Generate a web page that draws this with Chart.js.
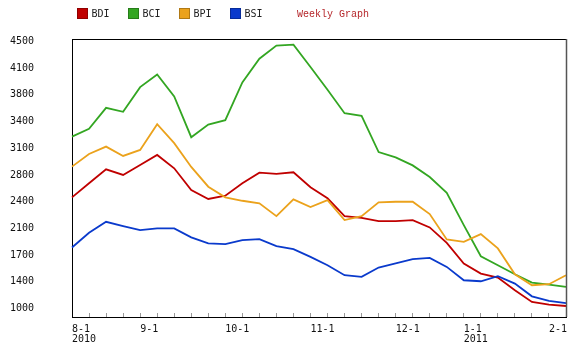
<!DOCTYPE html>
<html>
<head>
<meta charset="utf-8">
<script src="https://cdn.jsdelivr.net/npm/chart.js@4/dist/chart.umd.min.js"></script>
<style>
  body { margin: 0; background: #fff; }
  #wrap { width: 580px; height: 346px; }
</style>
</head>
<body>
<div id="wrap"><canvas id="lineChart" width="580" height="346"></canvas></div>
<script>
// weekly x axis, label only where a month starts
var weekLabels = [
  ['8-1', '2010'], '', '', '', '9-1', '', '', '', '', '10-1',
  '', '', '', '', '11-1', '', '', '', '', '12-1',
  '', '', '', ['1-1', '2011'], '', '', '', '', '2-1', ''
];

var bdi = [2457, 2641, 2824, 2750, 2881, 3012, 2837, 2553, 2435, 2478,
           2641, 2780, 2763, 2785, 2590, 2444, 2211, 2189, 2146, 2146,
           2159, 2063, 1861, 1591, 1459, 1407, 1240, 1087, 1052, 1034];
var bci = [3252, 3353, 3629, 3577, 3900, 4066, 3777, 3244, 3410, 3467,
           3961, 4272, 4443, 4456, 4163, 3865, 3559, 3524, 3050, 2980,
           2875, 2723, 2517, 2093, 1686, 1568, 1450, 1341, 1315, 1284];
var bpi = [2859, 3025, 3121, 2999, 3078, 3415, 3166, 2855, 2596, 2457,
           2412, 2378, 2211, 2431, 2330, 2421, 2159, 2211, 2391, 2399,
           2399, 2238, 1906, 1874, 1975, 1788, 1450, 1306, 1319, 1437];
var bsi = [1800, 1992, 2137, 2080, 2028, 2050, 2050, 1932, 1853, 1844,
           1896, 1910, 1818, 1778, 1677, 1568, 1437, 1415, 1538, 1591,
           1647, 1664, 1546, 1371, 1358, 1424, 1328, 1161, 1100, 1073];

// y axis: even steps of 350, labels as printed on the original
var yTickValues = [1000, 1350, 1700, 2050, 2400, 2750, 3100, 3450, 3800, 4150, 4500];
var yTickLabels = ['1000', '1400', '1700', '2100', '2400', '2800', '3100', '3400', '3800', '4100', '4500'];

var monoFont = '"DejaVu Sans Mono", monospace';

// legend row + "Weekly Graph" caption
var topLegend = {
  id: 'topLegend',
  afterDraw: function(chart) {
    var ctx = chart.ctx;
    ctx.save();
    ctx.font = '10px ' + monoFont;
    ctx.textBaseline = 'middle';
    var x = 77;
    chart.data.datasets.forEach(function(ds) {
      ctx.fillStyle = ds.borderColor;
      ctx.fillRect(x, 8, 11, 11);
      ctx.strokeStyle = 'rgba(0,0,0,0.25)';
      ctx.lineWidth = 1;
      ctx.strokeRect(x + 0.5, 8.5, 10, 10);
      ctx.fillStyle = '#222';
      ctx.fillText(ds.label, x + 14.5, 14);
      x += 51;
    });
    ctx.font = '10px "Liberation Mono", monospace';
    ctx.fillStyle = '#b5262a';
    ctx.fillText('Weekly Graph', x + 16, 14);
    ctx.restore();
  }
};

// box round the plot
var plotFrame = {
  id: 'plotFrame',
  afterDatasetsDraw: function(chart) {
    var a = chart.chartArea;
    var ctx = chart.ctx;
    ctx.save();
    ctx.strokeStyle = '#000';
    ctx.lineWidth = 1;
    ctx.beginPath();
    ctx.moveTo(a.left, a.top + 0.5);
    ctx.lineTo(a.right, a.top + 0.5);
    ctx.stroke();
    ctx.strokeStyle = '#555';
    ctx.lineWidth = 1.5;
    ctx.beginPath();
    ctx.moveTo(a.right + 0.5, a.top);
    ctx.lineTo(a.right + 0.5, a.bottom);
    ctx.stroke();
    ctx.restore();
  }
};

var ctxL = document.getElementById('lineChart').getContext('2d');
var myLineChart = new Chart(ctxL, {
  type: 'line',
  data: {
    labels: weekLabels,
    datasets: [
      { label: 'BDI', data: bdi, borderColor: '#c00000', order: 4 },
      { label: 'BCI', data: bci, borderColor: '#33a622', order: 3 },
      { label: 'BPI', data: bpi, borderColor: '#eba21c', order: 2 },
      { label: 'BSI', data: bsi, borderColor: '#0a3acc', order: 1 }
    ]
  },
  options: {
    responsive: false,
    devicePixelRatio: 1,
    animation: false,
    layout: { padding: { top: 39, right: 14, bottom: 0, left: 0 } },
    elements: {
      line: { borderWidth: 1.8, tension: 0, fill: false },
      point: { radius: 0 }
    },
    plugins: {
      legend: { display: false },
      tooltip: { enabled: false }
    },
    scales: {
      x: {
        type: 'category',
        offset: false,
        grid: {
          offset: false,
          drawOnChartArea: false,
          drawTicks: true,
          tickLength: -4,
          tickColor: '#999',
          tickWidth: 1
        },
        border: { color: '#000', width: 1 },
        ticks: {
          autoSkip: false,
          maxRotation: 0,
          minRotation: 0,
          align: 'start',
          padding: 11,
          color: '#111',
          font: { family: monoFont, size: 10, lineHeight: 1.05 }
        },
        afterFit: function(scale) {
          scale.height = 29;
          scale.paddingLeft = 0;
          scale.paddingRight = 0;
        }
      },
      y: {
        min: 890,
        max: 4530,
        grid: { display: false, drawTicks: false },
        border: { color: '#000', width: 1 },
        afterBuildTicks: function(scale) {
          scale.ticks = yTickValues.map(function(v) { return { value: v }; });
        },
        ticks: {
          autoSkip: false,
          padding: 38,
          color: '#111',
          font: { family: monoFont, size: 10 },
          callback: function(value, index) {
            return yTickLabels[index];
          }
        },
        afterFit: function(scale) {
          scale.width = 72;
          scale.paddingTop = 0;
          scale.paddingBottom = 0;
        }
      }
    }
  },
  plugins: [topLegend, plotFrame]
});
</script>
</body>
</html>
